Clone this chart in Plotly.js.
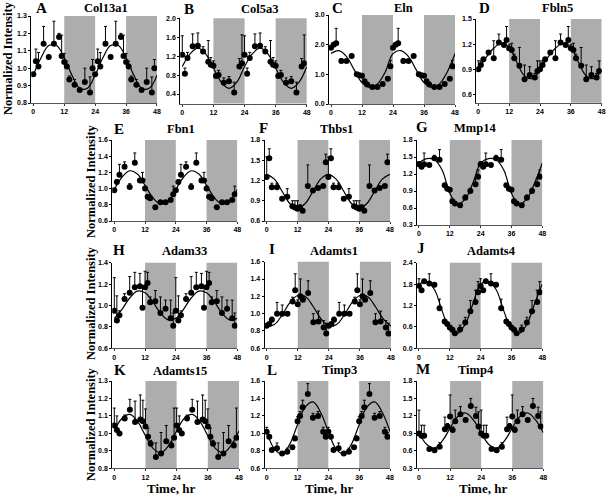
<!DOCTYPE html>
<html><head><meta charset="utf-8">
<script src="https://cdn.plot.ly/plotly-3.0.1.min.js"></script>
<style>html,body{margin:0;padding:0;background:#fff}#chart{width:606px;height:495px}</style>
</head><body><div id="chart"></div>
<script>
// ---------- data ----------
const T = [0,1,2,4,6,8,10,11,12,13,14,16,18,20,22,23];   // sampling times (h), double-plotted
const fitT = [0,3,6,9,12,15,18,21];                         // fitted-curve read-off times
const darkPeriods = [[12,24],[36,48]];
const xTicks = [0,12,24,36,48];

const col13a1    = [0.965,1.04,1.01,1.14,1.065,1.14,1.18,1.07,1.035,1.01,0.935,0.905,0.875,0.92,0.86,1.0];
const col13a1Err = [0,0.07,0.08,0.10,0,0.13,0.02,0.12,0.05,0.03,0.02,0.03,0,0.08,0.09,0.05];
const col13a1Fit = [0.96,1.06,1.13,1.13,1.06,0.96,0.885,0.885];

const col5a3     = [1.23,0.83,1.16,1.41,1.42,1.3,1.08,1.02,1.0,0.78,0.8,0.64,0.67,0.43,0.98,1.05];
const col5a3Err  = [0.4,0.12,0.12,0.26,0.27,0.1,0.45,0.15,0.1,0.05,0.1,0.1,0.1,0.22,0.17,0.6];
const col5a3Fit  = [0.98,1.25,1.37,1.25,0.95,0.65,0.52,0.65];

const eln        = [1.9,2.0,2.05,1.45,1.45,1.62,1.0,0.97,0.95,0.77,0.66,0.57,0.57,0.67,0.85,1.27];
const elnErr     = [0.03,0.03,0.5,0.08,0,0,0.05,0.03,0.03,0.03,0.03,0.02,0.02,0.03,0.05,0.2];
const elnFit     = [1.7,1.8,1.6,1.15,0.72,0.56,0.68,1.08];

const fbln5      = [0.9,0.95,1.02,1.1,1.03,1.22,1.19,1.25,1.15,1.13,1.03,0.94,0.78,0.83,0.8,0.88];
const fbln5Err   = [0.1,0.05,0.02,0.02,0.21,0.1,0.03,0.16,0.05,0.08,0.05,0.22,0.17,0.1,0.05,0.12];
const fbln5Fit   = [0.89,1.04,1.15,1.21,1.16,0.98,0.82,0.79];

const fbn1       = [0.98,1.08,1.17,1.27,1.02,1.32,1.1,1.1,1.0,0.9,0.88,0.77,0.83,0.83,0.86,0.93];
const fbn1Err    = [0.02,0.03,0.13,0.06,0.04,0.12,0.02,0.1,0.03,0.02,0.02,0,0,0,0.02,0.1];
const fbn1Fit    = [0.99,1.14,1.22,1.18,1.04,0.89,0.81,0.85];

const thbs1      = [1.25,1.53,1.1,1.1,0.93,0.96,0.82,0.8,0.78,0.8,0.75,1.12,1.05,1.09,1.12,1.47];
const thbs1Err   = [0.3,0.14,0.06,0.06,0,0.12,0.08,0.1,0.12,0.04,0,0.31,0,0,0.02,0.12];
const thbs1Fit   = [1.29,1.22,1.04,0.86,0.79,0.86,1.04,1.22];

const mmp14      = [1.37,1.33,1.37,1.36,1.48,1.45,1.0,0.94,0.92,0.72,0.68,0.65,0.78,0.9,1.02,1.15];
const mmp14Err   = [0.05,0.04,0.2,0,0.05,0.18,0,0.03,0,0.03,0,0,0.05,0.05,0.1,0.12];
const mmp14Fit   = [1.39,1.47,1.45,1.27,0.86,0.67,0.76,1.04];

const adam33     = [0.95,0.86,0.91,1.06,1.12,1.17,1.18,0.98,1.17,1.21,1.03,1.04,0.93,0.97,0.88,0.81];
const adam33Err  = [0.31,0.23,0.04,0.05,0.15,0.14,0.12,0.2,0.15,0.1,0.05,0.1,0.15,0.08,0.17,0.12];
const adam33Fit  = [0.88,0.964,1.07,1.135,1.12,1.036,0.93,0.865];

const adamts1    = [0.86,0.88,0.93,1.0,1.0,1.0,1.14,1.27,1.11,1.2,1.16,1.24,0.9,0.91,0.84,0.77];
const adamts1Err = [0.02,0.02,0.03,0.13,0.1,0.02,0.05,0.19,0.05,0.2,0.05,0.14,0.1,0.12,0.08,0.12];
const adamts1Fit = [0.856,0.875,0.987,1.13,1.21,1.195,1.08,0.94];

const adamts4    = [1.75,1.63,1.88,1.82,1.78,1.12,0.75,0.68,0.58,0.52,0.42,0.53,0.72,1.04,1.3,1.57];
const adamts4Err = [0.2,0.02,0.05,0.27,0.05,0.26,0.05,0.05,0.03,0.03,0.03,0.12,0.15,0.3,0.33,0.3];
const adamts4Fit = [1.8,1.87,1.65,1.05,0.55,0.42,0.68,1.25];

const adamts15    = [1.045,1.02,1.0,1.085,1.135,1.065,1.08,1.07,1.04,0.98,0.94,0.865,0.885,0.955,0.93,0.975];
const adamts15Err = [0.1,0.08,0,0.02,0.06,0.12,0.14,0.12,0.1,0.05,0.02,0.08,0.12,0.09,0.02,0.17];
const adamts15Fit = [1.014,1.087,1.109,1.067,0.986,0.913,0.89,0.933];

const timp3      = [1.02,0.96,0.81,0.83,0.77,0.79,0.84,0.94,1.14,1.2,1.3,1.45,1.18,1.2,1.02,0.96];
const timp3Err   = [0.05,0.02,0.02,0.06,0.02,0.04,0.02,0.03,0.05,0.05,0.08,0.12,0.05,0.05,0.05,0.05];
const timp3Fit   = [1.02,0.822,0.763,0.877,1.10,1.30,1.36,1.24];

const timp4      = [0.9,0.86,0.86,0.63,0.61,0.67,0.97,1.02,1.19,0.96,1.11,1.23,1.13,1.37,1.2,1.02];
const timp4Err   = [0.4,0.18,0.18,0.02,0.02,0.07,0.21,0.05,0.37,0.05,0.19,0.13,0.03,0.13,0.15,0.25];
const timp4Fit   = [0.91,0.71,0.65,0.77,0.99,1.19,1.25,1.13];

// ---------- layout of panels (pixel boxes: x of 0h, x of 48h, y of range top, y of range bottom) ----------
const panels = [
 {L:'A', name:'Col13a1', y:col13a1, e:col13a1Err, f:col13a1Fit, yr:[0.8,1.3], yt:[0.8,0.9,1.0,1.1,1.2,1.3], box:[33.3,157,16,103], lt:[41,8], tt:[106,8]},
 {L:'B', name:'Col5a3',  y:col5a3,  e:col5a3Err,  f:col5a3Fit,  yr:[0.2,2.0], yt:[0.4,0.8,1.2,1.6,2.0], box:[182.3,306.8,18.3,103.5], lt:[189,8.5], tt:[260,8.5]},
 {L:'C', name:'Eln',     y:eln,     e:elnErr,     f:elnFit,     yr:[0,3], yt:[0,1,2,3], box:[331,455,15,104], lt:[337,8], tt:[403,8]},
 {L:'D', name:'Fbln5',   y:fbln5,   e:fbln5Err,   f:fbln5Fit,   yr:[0.5,1.5], yt:[0.6,0.9,1.2,1.5], box:[478.3,601.7,19,102.7], lt:[484,8], tt:[557,8]},
 {L:'E', name:'Fbn1',    y:fbn1,    e:fbn1Err,    f:fbn1Fit,    yr:[0.6,1.6], yt:[0.6,0.8,1.0,1.2,1.4,1.6], box:[114.3,237.3,140,221], lt:[119,129], tt:[181,129]},
 {L:'F', name:'Thbs1',   y:thbs1,   e:thbs1Err,   f:thbs1Fit,   yr:[0.6,1.8], yt:[0.6,0.9,1.2,1.5,1.8], box:[266.7,390,140,221], lt:[263,128], tt:[336,129]},
 {L:'G', name:'Mmp14',   y:mmp14,   e:mmp14Err,   f:mmp14Fit,   yr:[0.3,1.8], yt:[0.3,0.6,0.9,1.2,1.5,1.8], box:[419,542.3,140,225], lt:[422,127], tt:[475,128]},
 {L:'H', name:'Adam33',  y:adam33,  e:adam33Err,  f:adam33Fit,  yr:[0.6,1.4], yt:[0.6,0.8,1.0,1.2,1.4], box:[114.3,237.3,262.7,348.3], lt:[119,250], tt:[185,251]},
 {L:'I', name:'Adamts1', y:adamts1, e:adamts1Err, f:adamts1Fit, yr:[0.6,1.6], yt:[0.6,0.8,1.0,1.2,1.4,1.6], box:[266.7,391,261.7,348.3], lt:[272,249], tt:[334,251]},
 {L:'J', name:'Adamts4', y:adamts4, e:adamts4Err, f:adamts4Fit, yr:[0,2.4], yt:[0,0.6,1.2,1.8,2.4], box:[419,542.3,262.7,348.3], lt:[421.5,248], tt:[491,251]},
 {L:'K', name:'Adamts15',y:adamts15,e:adamts15Err,f:adamts15Fit,yr:[0.8,1.3], yt:[0.8,0.9,1.0,1.1,1.2,1.3], box:[114.3,239,381,468.3], lt:[120,369.5], tt:[180,371]},
 {L:'L', name:'Timp3',   y:timp3,   e:timp3Err,   f:timp3Fit,   yr:[0.6,1.6], yt:[0.6,0.8,1.0,1.2,1.4,1.6], box:[266.7,390,381,468.3], lt:[272,369.5], tt:[339,370]},
 {L:'M', name:'Timp4',   y:timp4,   e:timp4Err,   f:timp4Fit,   yr:[0.3,1.8], yt:[0.3,0.6,0.9,1.2,1.5,1.8], box:[419,543.3,381,468.3], lt:[423,369], tt:[476,370]}
];

const W = 606, H = 495;
const X_MIN = -0.8, X_MAX = 48;
const px = x => x / W, py = y => 1 - y / H;
const serif = 'Liberation Serif, Times New Roman, serif';
const sans = 'Liberation Sans, Arial, sans-serif';

const traces = [], shapes = [], annotations = [];
const layout = {
  width: W, height: H, margin:{l:0,r:0,t:0,b:0}, showlegend:false,
  paper_bgcolor:'#fff', plot_bgcolor:'rgba(0,0,0,0)'
};

panels.forEach((p, i) => {
  const n = i === 0 ? '' : String(i + 1);
  const xa = 'x' + n, ya = 'y' + n;
  const [X0, X48, Yt, Yb] = p.box;
  const pph = (X48 - X0) / 48;
  layout['xaxis' + n] = {
    domain:[px(X0 + X_MIN * pph), px(X0 + X_MAX * pph)], range:[X_MIN, X_MAX], anchor: ya,
    tickvals: xTicks, ticktext: xTicks.map(String), ticks:'outside', ticklen:2, tickcolor:'#333',
    showline:true, linecolor:'#555', linewidth:1, showgrid:false, zeroline:false,
    tickfont:{family:sans, size:7, color:'#000', weight:'bold'}, fixedrange:true
  };
  layout['yaxis' + n] = {
    domain:[py(Yb), py(Yt)], range:p.yr, anchor: xa,
    tickvals:p.yt, ticktext:p.yt.map(v => v.toFixed(1)), ticks:'outside', ticklen:2, tickcolor:'#000',
    showline:true, linecolor:'#000', linewidth:1, showgrid:false, zeroline:false,
    tickfont:{family:sans, size:7, color:'#000', weight:'bold'}, fixedrange:true
  };
  darkPeriods.forEach(([a, b]) => shapes.push({
    type:'rect', xref:xa, yref:ya + ' domain', x0:a, x1:b, y0:0, y1:1,
    fillcolor:'#adadad', line:{width:0}, layer:'below'
  }));
  // fitted curve (double-plotted)
  const fx = fitT.concat(fitT.map(t => t + 24), [48]);
  const fy = p.f.concat(p.f, [p.f[0]]);
  traces.push({x:fx, y:fy, xaxis:xa, yaxis:ya, mode:'lines', type:'scatter',
    line:{color:'#000', width:1.2, shape:'spline', smoothing:1.1}, hoverinfo:'skip'});
  // data points (double-plotted)
  const dx = T.concat(T.map(t => t + 24));
  const dy = p.y.concat(p.y);
  const de = p.e.concat(p.e);
  traces.push({x:dx, y:dy, xaxis:xa, yaxis:ya, mode:'markers', type:'scatter',
    marker:{color:'#000', size:6},
    error_y:{type:'data', symmetric:false, array:de, arrayminus:de.map(() => 0),
      color:'#000', thickness:1, width:1.5}});
  annotations.push({xref:'paper', yref:'paper', x:px(p.lt[0]), y:py(p.lt[1]), xanchor:'center', yanchor:'middle',
    text:'<b>' + p.L + '</b>', showarrow:false, font:{family:serif, size:15, color:'#000'}});
  annotations.push({xref:'paper', yref:'paper', x:px(p.tt[0]), y:py(p.tt[1]), xanchor:'center', yanchor:'middle',
    text:'<b>' + p.name + '</b>', showarrow:false, font:{family:serif, size:12.5, color:'#000'}});
});

// axis titles
[[8,58],[91,181],[91,303],[91,424]].forEach(([x, y]) => annotations.push({
  xref:'paper', yref:'paper', x:px(x), y:py(y), xanchor:'center', yanchor:'middle', textangle:-90,
  text:'<b>Normalized Intensity</b>', showarrow:false, font:{family:serif, size:12.5, color:'#000'}}));
[[171,488],[329,488],[483,488]].forEach(([x, y]) => annotations.push({
  xref:'paper', yref:'paper', x:px(x), y:py(y), xanchor:'center', yanchor:'middle',
  text:'<b>Time, hr</b>', showarrow:false, font:{family:serif, size:13, color:'#000'}}));

layout.shapes = shapes;
layout.annotations = annotations;
Plotly.newPlot('chart', traces, layout, {staticPlot:true, displayModeBar:false});
</script></body></html>
